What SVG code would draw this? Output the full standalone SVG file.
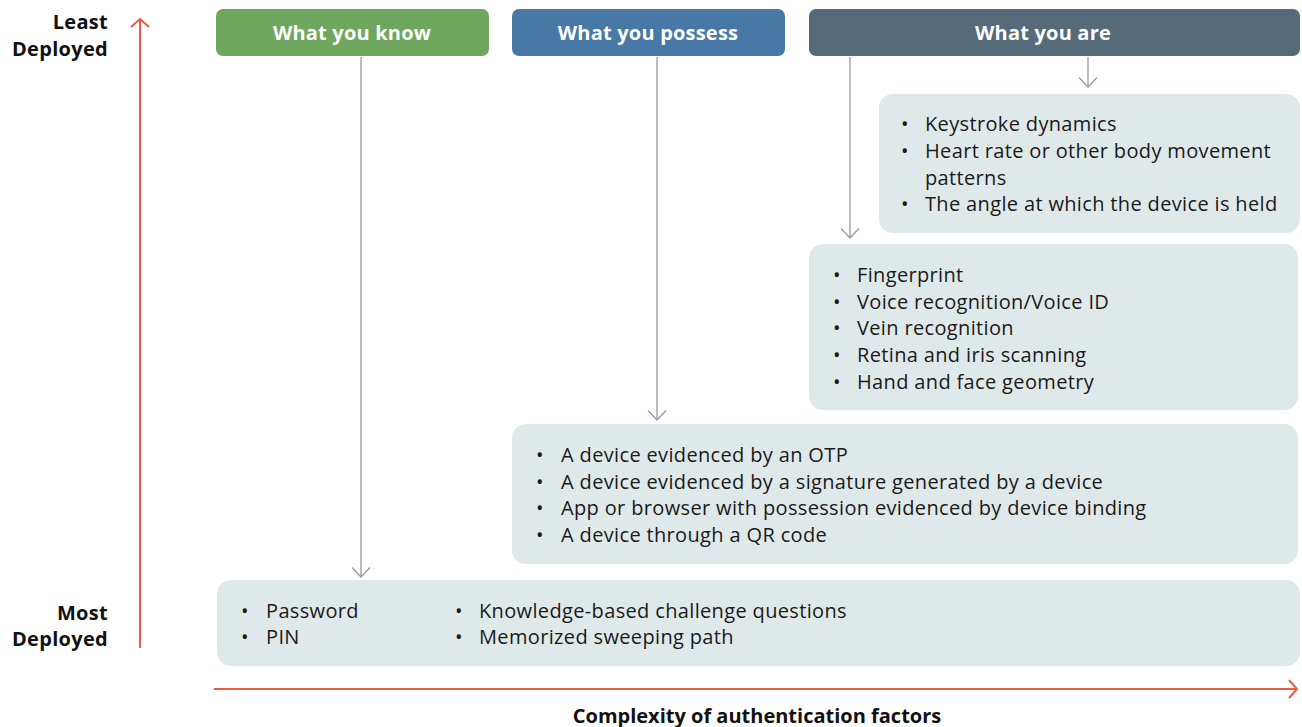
<svg xmlns="http://www.w3.org/2000/svg" width="1302" height="727" viewBox="0 0 1302 727">
<defs>
<marker id="g" viewBox="0 0 12 20" refX="10.5" refY="10" markerWidth="12" markerHeight="20" markerUnits="userSpaceOnUse" orient="auto"><path d="M1,1 L10.5,10 L1,19" fill="none" stroke="#999" stroke-width="1.3"/></marker>
<marker id="r" viewBox="0 0 20 20" refX="10" refY="10" markerWidth="20" markerHeight="20" markerUnits="userSpaceOnUse" orient="auto"><path d="M3,1 L11,10 L3,19" fill="none" stroke="#ef5a45" stroke-width="2"/></marker>
</defs>
<style>
.hd{font-family:"Open Sans","Noto Sans",sans-serif;font-weight:bold;font-size:20px;letter-spacing:0.2px;fill:#fff;text-anchor:middle}
.t{font-family:"Open Sans","Noto Sans",sans-serif;font-size:20px;letter-spacing:0.35px;fill:#1a1a1a}
.lb{font-family:"Open Sans","Noto Sans",sans-serif;font-weight:bold;font-size:20px;letter-spacing:0.3px;fill:#111;text-anchor:end}
.bx{fill:#e0e9ea}
.cn{stroke:#999;stroke-width:1.3;fill:none}
.ax{stroke:#ef5a45;stroke-width:2;fill:none}
</style>
<g id="axes">
<line class="ax" x1="140" y1="648" x2="140" y2="20" marker-end="url(#r)"/>
<line class="ax" x1="214" y1="689" x2="1296" y2="689" marker-end="url(#r)"/>
<text class="lb" x="108" y="29">Least</text>
<text class="lb" x="108" y="56">Deployed</text>
<text class="lb" x="108" y="620">Most</text>
<text class="lb" x="108" y="646">Deployed</text>
<text class="lb" x="757" y="723" style="text-anchor:middle;letter-spacing:0px">Complexity of authentication factors</text>
</g>
<g id="connectors">
<line class="cn" x1="361" y1="57" x2="361" y2="577" marker-end="url(#g)"/>
<line class="cn" x1="657" y1="57" x2="657" y2="420" marker-end="url(#g)"/>
<line class="cn" x1="850" y1="57" x2="850" y2="238" marker-end="url(#g)"/>
<line class="cn" x1="1088" y1="57" x2="1088" y2="87" marker-end="url(#g)"/>
</g>
<g id="h-know"><rect x="216" y="9" width="273" height="47" rx="7" fill="#6ea75d"/><text class="hd" x="352" y="40">What you know</text></g>
<g id="h-possess"><rect x="512" y="9" width="273" height="47" rx="7" fill="#4878a6"/><text class="hd" x="648" y="40">What you possess</text></g>
<g id="h-are"><rect x="809" y="9" width="491" height="47" rx="7" fill="#566b7a"/><text class="hd" x="1043" y="40">What you are</text></g>
<g id="box-behav"><rect class="bx" x="879" y="94" width="421" height="139" rx="14"/>
<text class="t"><tspan x="901" y="131">•</tspan><tspan x="925" y="131">Keystroke dynamics</tspan><tspan x="901" y="158">•</tspan><tspan x="925" y="158">Heart rate or other body movement</tspan><tspan x="925" y="185">patterns</tspan><tspan x="901" y="211">•</tspan><tspan x="925" y="211">The angle at which the device is held</tspan></text></g>
<g id="box-bio"><rect class="bx" x="809" y="244" width="489" height="166" rx="14"/>
<text class="t"><tspan x="833" y="282">•</tspan><tspan x="857" y="282">Fingerprint</tspan><tspan x="833" y="309">•</tspan><tspan x="857" y="309">Voice recognition/Voice ID</tspan><tspan x="833" y="335">•</tspan><tspan x="857" y="335">Vein recognition</tspan><tspan x="833" y="362">•</tspan><tspan x="857" y="362">Retina and iris scanning</tspan><tspan x="833" y="389">•</tspan><tspan x="857" y="389">Hand and face geometry</tspan></text></g>
<g id="box-possess"><rect class="bx" x="512" y="424" width="786" height="140" rx="14"/>
<text class="t"><tspan x="536" y="462">•</tspan><tspan x="561" y="462">A device evidenced by an OTP</tspan><tspan x="536" y="489">•</tspan><tspan x="561" y="489">A device evidenced by a signature generated by a device</tspan><tspan x="536" y="515">•</tspan><tspan x="561" y="515">App or browser with possession evidenced by device binding</tspan><tspan x="536" y="542">•</tspan><tspan x="561" y="542">A device through a QR code</tspan></text></g>
<g id="box-know"><rect class="bx" x="217" y="580" width="1083" height="86" rx="14"/>
<text class="t"><tspan x="241" y="618">•</tspan><tspan x="266" y="618">Password</tspan><tspan x="241" y="644">•</tspan><tspan x="266" y="644">PIN</tspan><tspan x="455" y="618">•</tspan><tspan x="479" y="618">Knowledge-based challenge questions</tspan><tspan x="455" y="644">•</tspan><tspan x="479" y="644">Memorized sweeping path</tspan></text></g>
</svg>
